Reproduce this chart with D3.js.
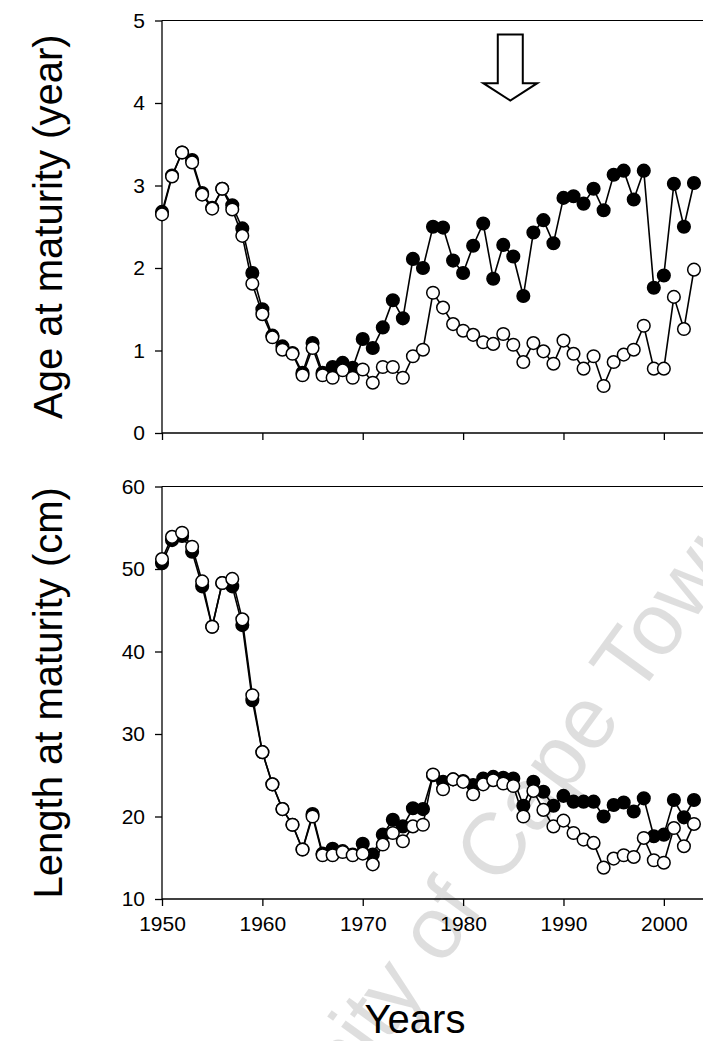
<!DOCTYPE html>
<html>
<head>
<meta charset="utf-8">
<script src="https://cdn.jsdelivr.net/npm/d3@7"></script>
<style>
  body { margin: 0; background: #fff; }
  svg { display: block; font-family: "Liberation Sans", Arial, Helvetica, sans-serif; }
  .axis path, .axis line { stroke: #000; stroke-width: 1.3; }
  .axis text { font-size: 21px; fill: #000; }
</style>
</head>
<body>
<svg id="chart" width="703" height="1041"></svg>
<script>

let years = [1950, 1951, 1952, 1953, 1954, 1955, 1956, 1957, 1958, 1959,
    1960, 1961, 1962, 1963, 1964, 1965, 1966, 1967, 1968, 1969,
    1970, 1971, 1972, 1973, 1974, 1975, 1976, 1977, 1978, 1979,
    1980, 1981, 1982, 1983, 1984, 1985, 1986, 1987, 1988, 1989,
    1990, 1991, 1992, 1993, 1994, 1995, 1996, 1997, 1998, 1999,
    2000, 2001, 2002, 2003];

// age at maturity (year)
let ageFilled = [2.68, 3.12, 3.40, 3.31, 2.91, 2.73, 2.96, 2.76, 2.48, 1.94,
    1.50, 1.18, 1.05, 0.97, 0.73, 1.09, 0.73, 0.80, 0.85, 0.79,
    1.14, 1.03, 1.28, 1.61, 1.39, 2.11, 2.00, 2.50, 2.49, 2.09,
    1.94, 2.27, 2.54, 1.87, 2.28, 2.14, 1.66, 2.43, 2.58, 2.30,
    2.85, 2.87, 2.78, 2.96, 2.70, 3.13, 3.18, 2.83, 3.18, 1.76,
    1.91, 3.02, 2.50, 3.03];

let ageOpen = [2.65, 3.11, 3.40, 3.28, 2.89, 2.72, 2.96, 2.71, 2.39, 1.81,
    1.44, 1.16, 1.01, 0.96, 0.70, 1.03, 0.70, 0.67, 0.76, 0.67,
    0.77, 0.61, 0.80, 0.80, 0.67, 0.93, 1.01, 1.70, 1.52, 1.32,
    1.24, 1.19, 1.10, 1.08, 1.20, 1.07, 0.86, 1.09, 0.99, 0.84,
    1.12, 0.96, 0.78, 0.93, 0.57, 0.86, 0.95, 1.01, 1.30, 0.78,
    0.78, 1.65, 1.26, 1.98];

// length at maturity (cm)
let lenFilled = [50.7, 53.5, 54.0, 52.1, 47.9, 43.0, 48.3, 47.9, 43.2, 34.1,
    27.8, 23.9, 20.9, 19.0, 16.0, 20.3, 15.5, 16.1, 15.8, 15.4,
    16.7, 15.4, 17.8, 19.6, 18.8, 21.0, 20.9, 25.0, 24.2, 24.5,
    24.3, 23.8, 24.6, 24.8, 24.7, 24.6, 21.3, 24.2, 23.0, 21.3,
    22.5, 21.8, 21.8, 21.8, 20.0, 21.4, 21.7, 20.6, 22.2, 17.6,
    17.8, 22.0, 19.9, 22.0];

let lenOpen = [51.2, 53.9, 54.4, 52.7, 48.5, 43.0, 48.3, 48.8, 43.9, 34.7,
    27.8, 23.9, 20.9, 19.0, 16.0, 20.0, 15.3, 15.3, 15.7, 15.3,
    15.5, 14.2, 16.6, 18.0, 17.0, 18.8, 19.0, 25.1, 23.3, 24.5,
    24.2, 22.7, 23.9, 24.4, 24.0, 23.7, 20.0, 23.1, 20.8, 18.8,
    19.5, 18.0, 17.2, 16.8, 13.8, 14.9, 15.3, 15.1, 17.4, 14.7,
    14.4, 18.6, 16.4, 19.1];

let yearTicks = [1950, 1960, 1970, 1980, 1990, 2000];
let ageTicks = [0, 1, 2, 3, 4, 5];
let lenTicks = [10, 20, 30, 40, 50, 60];

let arrowYear = 1984.7;   // the open arrow above the top panel

let svg = d3.select("#chart");

let x = d3.scaleLinear().domain([1950, 2004]).range([162, 704]);

let panels = [
    { y: d3.scaleLinear().domain([0, 5]).range([433, 20.5]), ticks: ageTicks,
      filled: ageFilled, open: ageOpen, title: "Age at maturity (year)", labels: false },
    { y: d3.scaleLinear().domain([10, 60]).range([899, 486.5]), ticks: lenTicks,
      filled: lenFilled, open: lenOpen, title: "Length at maturity (cm)", labels: true }
];

// watermark sits under the data
svg.append("text")
    .attr("transform", "translate(200,1300) rotate(-54)")
    .style("font-size", "88px")
    .attr("fill", "#000")
    .attr("fill-opacity", 0.13)
    .text("University of Cape Town");

panels.forEach(p => {
    let g = svg.append("g");
    let [bottom, top] = p.y.range();

    // top frame line
    g.append("line")
        .attr("x1", x(1950)).attr("x2", 703)
        .attr("y1", top).attr("y2", top)
        .attr("stroke", "#000").attr("stroke-width", 1.2);

    let xAxis = d3.axisBottom(x).tickValues(yearTicks).tickSize(7).tickPadding(10)
        .tickFormat(p.labels ? d3.format("d") : "");
    g.append("g").attr("class", "axis")
        .attr("transform", `translate(0,${bottom})`)
        .call(xAxis)
        .call(a => a.select(".domain").attr("d", `M${x(1950)},0H703`));

    let yAxis = d3.axisLeft(p.y).tickValues(p.ticks).tickSize(7).tickPadding(10)
        .tickFormat(d3.format("d"));
    g.append("g").attr("class", "axis")
        .attr("transform", `translate(${x(1950)},0)`)
        .call(yAxis)
        .call(a => a.select(".domain").attr("d", `M0,${top}V${bottom}`));

    g.append("text")
        .attr("transform", `translate(62,${(top + bottom) / 2}) rotate(-90)`)
        .attr("text-anchor", "middle")
        .style("font-size", "40px")
        .text(p.title);

    let line = d3.line().x((d, i) => x(years[i])).y(d => p.y(d));

    [["filled", "#000"], ["open", "#fff"]].forEach(([key, fill]) => {
        let vals = p[key];
        g.append("path")
            .datum(vals)
            .attr("d", line)
            .attr("fill", "none")
            .attr("stroke", "#000")
            .attr("stroke-width", 1.6);

        g.selectAll(`.dot-${key}`)
            .data(vals).enter().append("circle")
            .attr("class", `dot-${key}`)
            .attr("cx", (d, i) => x(years[i]))
            .attr("cy", d => p.y(d))
            .attr("r", 6.3)
            .attr("fill", fill)
            .attr("stroke", "#000")
            .attr("stroke-width", 1.5);
    });
});

// down arrow marking the change
let ay = panels[0].y;
let ax = x(arrowYear);
let arrowPath = [
    [ax - 12.5, ay(4.83)], [ax + 12.5, ay(4.83)], [ax + 12.5, ay(4.24)],
    [ax + 27, ay(4.24)], [ax, ay(4.03)], [ax - 27, ay(4.24)], [ax - 12.5, ay(4.24)]
];
svg.append("path")
    .attr("d", d3.line()(arrowPath) + "Z")
    .attr("fill", "#fff")
    .attr("stroke", "#000")
    .attr("stroke-width", 2);

svg.append("text")
    .attr("x", 415).attr("y", 1033)
    .attr("text-anchor", "middle")
    .style("font-size", "40px")
    .text("Years");

</script>
</body>
</html>
